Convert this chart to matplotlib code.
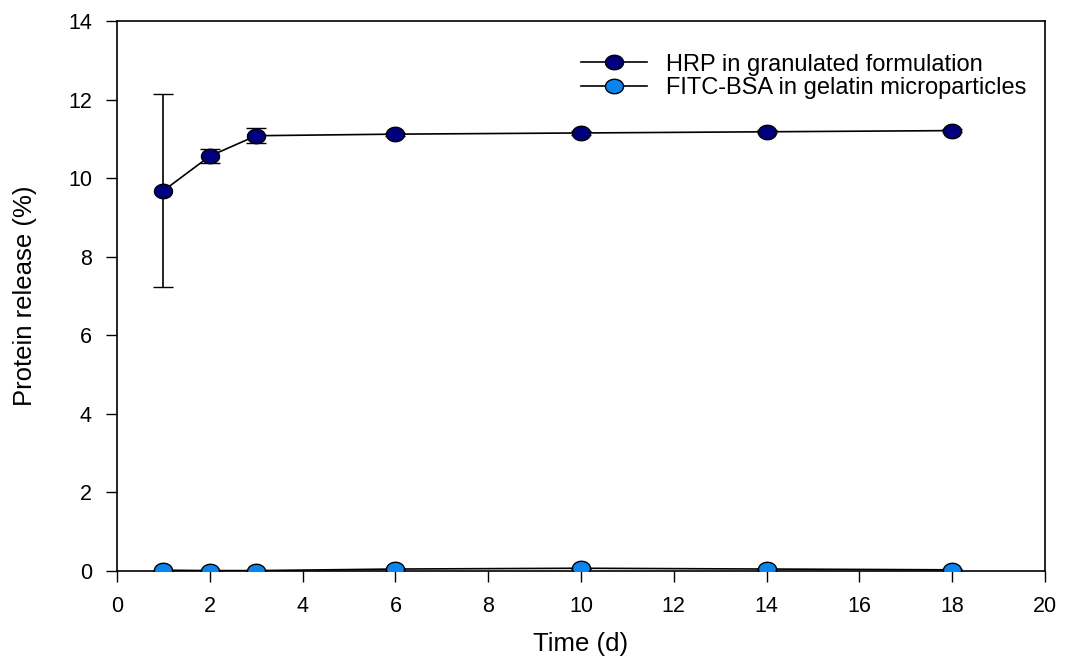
import matplotlib
matplotlib.use("Agg")
import matplotlib.pyplot as plt
import numpy as np
from matplotlib.path import Path

plt.rcParams['font.family'] = ['Liberation Sans', 'DejaVu Sans']

time = [1, 2, 3, 6, 10, 14, 18]
hrp = [9.68, 10.56, 11.08, 11.12, 11.15, 11.18, 11.21]
hrp_err = [2.45, 0.18, 0.19, 0.04, 0.04, 0.04, 0.04]
fitc = [0.02, 0.01, 0.01, 0.05, 0.07, 0.05, 0.03]
fitc_err = [0.01, 0.01, 0.01, 0.01, 0.01, 0.01, 0.01]

theta = np.linspace(0, 2 * np.pi, 60)
ellipse = Path(np.column_stack([np.cos(theta), 0.8 * np.sin(theta)]), closed=True)

fig = plt.figure(figsize=(10.78, 6.62), dpi=100)
ax = fig.add_axes([117/1078, 1 - 571/662, (1045-117)/1078, (571-21)/662])

common = dict(color='black', lw=1.2, capsize=7, elinewidth=1.2, capthick=1.2,
              marker=ellipse, markersize=13, markeredgecolor='black', markeredgewidth=1, zorder=3)
ax.errorbar(time, hrp, yerr=hrp_err, markerfacecolor='#00007f',
            label='HRP in granulated formulation', **common)
ax.errorbar(time, fitc, yerr=fitc_err, markerfacecolor='#0a84ef',
            label='FITC-BSA in gelatin microparticles', **common)

ax.set_xlim(0, 20)
ax.set_ylim(0, 14)
ax.set_xticks(range(0, 21, 2))
ax.set_yticks(range(0, 15, 2))
ax.tick_params(direction='out', length=8, width=1, labelsize=15.5, pad=10)
ax.tick_params(top=False, right=False)
for s in ax.spines.values():
    s.set_linewidth(1.2)
ax.set_xlabel('Time (d)', fontsize=18.5, labelpad=11)
ax.set_ylabel('Protein release (%)', fontsize=18.5, labelpad=22)

handles, labels = ax.get_legend_handles_labels()
handles = [h[0] for h in handles]
ax.legend(handles, labels, loc='upper right', bbox_to_anchor=(1.0, 0.975), frameon=False,
          fontsize=17, handlelength=2.8, labelspacing=0.05, borderpad=0.3, handletextpad=0.8)

fig.savefig('out.png', dpi=100)
